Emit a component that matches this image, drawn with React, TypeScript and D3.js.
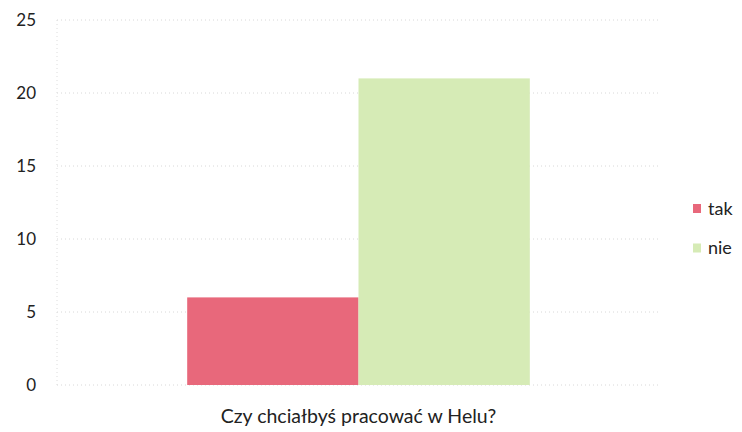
import React from "react";
import * as d3 from "d3";

const categories = ["Czy chciałbyś pracować w Helu?"];
const seriesNames = ["tak", "nie"];
const seriesValues = [[6], [21]];
const seriesColors = ["#e8687b", "#d6ebb6"];
const yTicks = [0, 5, 10, 15, 20, 25];

const W = 742, H = 432;
const margin = { left: 57, right: 82, top: 20, bottom: 47 };
const FONT = "Lato, 'Open Sans', sans-serif";

export default function App() {
  const plotR = W - margin.right;
  const plotB = H - margin.bottom;
  const y = d3.scaleLinear().domain([0, 25]).range([plotB, margin.top]);
  const x0 = d3.scaleBand().domain(categories).range([margin.left, plotR]).paddingInner(0).paddingOuter(0.38);
  const x1 = d3.scaleBand().domain(seriesNames).range([0, x0.bandwidth()]).padding(0);

  return (
    <div style={{ position: "absolute", left: 0, top: 0 }}>
      <svg width={W} height={H} style={{ display: "block", background: "#fff" }}>
        {yTicks.map((t) => (
          <g key={t}>
            <line x1={margin.left} x2={plotR} y1={y(t)} y2={y(t)} stroke="#d8d8d8" strokeWidth={1} strokeDasharray="1,3" />
            <text x={margin.left - 21} y={y(t)} dy="0.35em" textAnchor="end" fontFamily={FONT} fontSize={17} fill="#222">{t}</text>
          </g>
        ))}
        <line x1={margin.left} x2={margin.left} y1={margin.top} y2={plotB} stroke="#dcdcdc" strokeDasharray="1,3" />
        {categories.map((c, ci) => (
          <g key={c}>
            {seriesNames.map((s, si) => (
              <rect key={s} x={(x0(c) ?? 0) + (x1(s) ?? 0)} y={y(seriesValues[si][ci])} width={x1.bandwidth()} height={plotB - y(seriesValues[si][ci])} fill={seriesColors[si]} />
            ))}
            <text x={(x0(c) ?? 0) + x0.bandwidth() / 2} y={plotB + 31} dy="0.35em" textAnchor="middle" fontFamily={FONT} fontSize={19.5} fill="#222">{c}</text>
          </g>
        ))}
        {seriesNames.map((s, si) => (
          <g key={s} transform={`translate(693, ${208.5 + si * 39.5})`}>
            <rect x={0} y={-4.5} width={8} height={9} fill={seriesColors[si]} />
            <text x={15} y={0} dy="0.35em" fontFamily={FONT} fontSize={18} fill="#222">{s}</text>
          </g>
        ))}
      </svg>
    </div>
  );
}
